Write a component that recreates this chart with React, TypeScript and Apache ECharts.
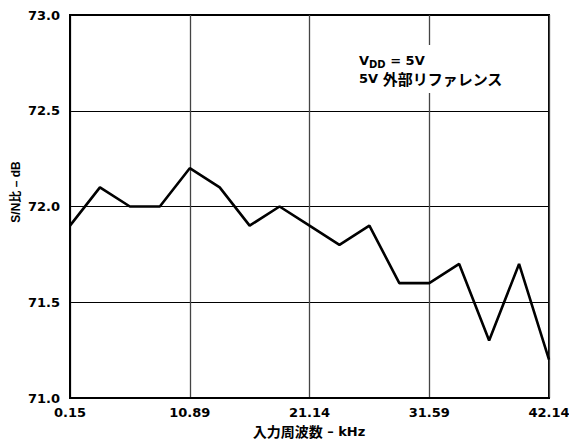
import React, { useEffect, useRef } from "react";
import * as echarts from "echarts";

const tickLabels = ["0.15", "10.89", "21.14", "31.59", "42.14"];
const pointsPerGrid = 4;
const snrValues = [71.9, 72.1, 72.0, 72.0, 72.2, 72.1, 71.9, 72.0, 71.9, 71.8, 71.9, 71.6, 71.6, 71.7, 71.3, 71.7, 71.2];
const yMin = 71.0;
const yMax = 73.0;
const yStep = 0.5;

const categories = snrValues.map((_, i) =>
  i % pointsPerGrid === 0 ? tickLabels[i / pointsPerGrid] : "p" + i
);

const LATIN = "'DejaVu Sans', 'Noto Sans CJK JP', sans-serif";
const ARIAL = "'Liberation Sans', 'Noto Sans CJK JP', sans-serif";
const CJK = "'Noto Sans CJK JP', sans-serif";

export default function App() {
  const ref = useRef<HTMLDivElement>(null);
  useEffect(() => {
    document.body.style.margin = "0";
    document.body.style.overflow = "hidden";
    if (!ref.current) return;
    const chart = echarts.init(ref.current, undefined, { renderer: "svg" });
    chart.setOption({
      animation: false,
      backgroundColor: "#fff",
      grid: {
        left: 70,
        top: 15,
        width: 479,
        height: 383,
        outerBoundsMode: "none",
        containLabel: false,
        show: true,
        borderColor: "#000",
        borderWidth: 2,
        backgroundColor: "transparent",
      },
      xAxis: {
        type: "category",
        data: categories,
        boundaryGap: false,
        axisLine: { show: true, lineStyle: { color: "#000", width: 2 } },
        axisTick: { show: false },
        axisLabel: {
          interval: pointsPerGrid - 1,
          color: "#000",
          fontWeight: "bold",
          fontSize: 13,
          fontFamily: LATIN,
          margin: 8,
        },
        splitLine: {
          show: true,
          interval: pointsPerGrid - 1,
          lineStyle: { color: "#444", width: 1.3 },
        },
      },
      yAxis: {
        type: "value",
        min: yMin,
        max: yMax,
        interval: yStep,
        axisLine: { show: true, lineStyle: { color: "#000", width: 2 } },
        axisTick: { show: false },
        axisLabel: {
          formatter: (v: number) => v.toFixed(1),
          color: "#000",
          fontWeight: "bold",
          fontSize: 13,
          fontFamily: LATIN,
          margin: 10,
        },
        splitLine: { show: true, lineStyle: { color: "#000", width: 1 } },
      },
      series: [
        {
          type: "line",
          data: snrValues,
          symbol: "none",
          lineStyle: { color: "#000", width: 2.6 },
          z: 3,
        },
      ],
      graphic: [
        {
          type: "rect",
          shape: { x: 352, y: 45, width: 170, height: 48 },
          style: { fill: "#fff" },
          z: 10,
        },
        {
          type: "text",
          x: 359,
          y: 51,
          z: 11,
          style: {
            text: "{v|V}{s|DD}{v| = 5V}\n{v|5V }{c|外部リファレンス}",
            fill: "#000",
            font: "bold 13px " + LATIN,
            rich: {
              v: { fontSize: 13, fontWeight: "bold", fontFamily: LATIN, lineHeight: 18, fill: "#000" },
              s: { fontSize: 10, fontWeight: "bold", fontFamily: LATIN, lineHeight: 18, fill: "#000", verticalAlign: "bottom", padding: [5, 0, 0, 0] },
              c: { fontSize: 15, fontWeight: "bold", fontFamily: CJK, lineHeight: 18, fill: "#000" },
            },
          },
        },
        {
          type: "text",
          x: 16,
          y: 192,
          rotation: Math.PI / 2,
          z: 11,
          style: {
            text: "S/N比 – dB",
            fill: "#000",
            font: "bold 12px " + ARIAL,
            textAlign: "center",
            textVerticalAlign: "middle",
          },
        },
        {
          type: "text",
          x: 309,
          y: 431,
          z: 11,
          style: {
            text: "{c|入力周波数}{v| – kHz}",
            fill: "#000",
            font: "bold 13px " + LATIN,
            textAlign: "center",
            textVerticalAlign: "middle",
            rich: {
              c: { fontSize: 14, fontWeight: "bold", fontFamily: CJK, fill: "#000" },
              v: { fontSize: 13, fontWeight: "bold", fontFamily: LATIN, fill: "#000" },
            },
          },
        },
      ],
    });
    return () => chart.dispose();
  }, []);
  return (
    <div
      ref={ref}
      style={{ position: "fixed", left: 0, top: 0, width: 569, height: 443, overflow: "hidden" }}
    />
  );
}
